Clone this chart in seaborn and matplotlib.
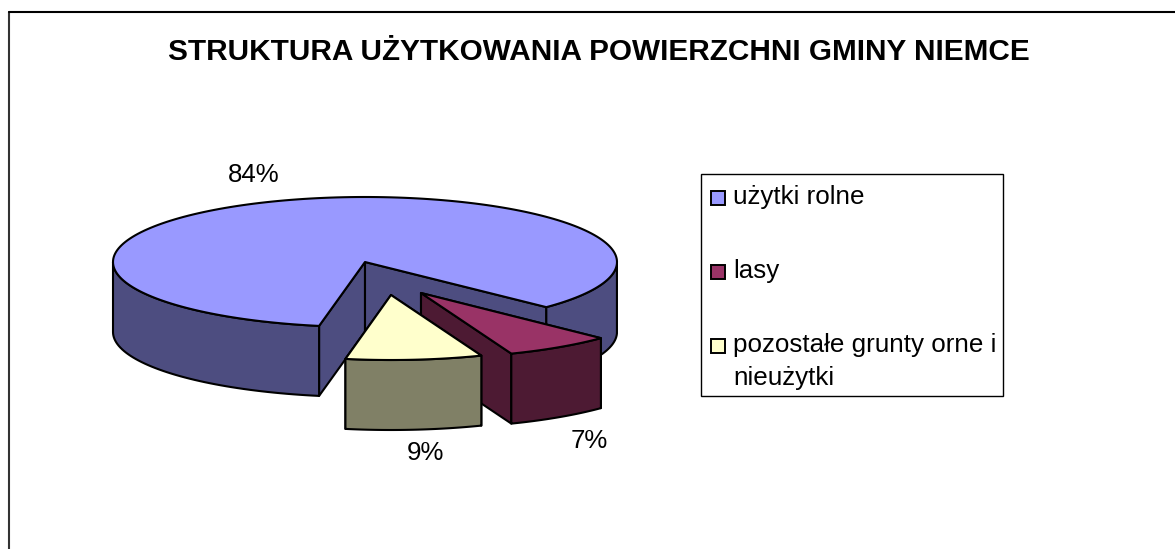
import seaborn as sns
import matplotlib.pyplot as plt
import numpy as np
from matplotlib.patches import Rectangle

categories = ["użytki rolne", "lasy", "pozostałe grunty orne i\nnieużytki"]
values = [84.3, 6.9, 8.8]
pct_labels = ["84%", "7%", "9%"]
title = "STRUKTURA UŻYTKOWANIA POWIERZCHNI GMINY NIEMCE"

sns.set_theme(style="white")
plt.rcParams["font.family"] = ["Liberation Sans", "DejaVu Sans"]

## kolory: gora i bok kazdego wycinka
palette = sns.color_palette(["#9999FF", "#993366", "#FFFFCC"])
sides = [tuple(c * 0.5 for c in col) for col in palette]

W, H = 1175, 549
fig = plt.figure(figsize=(W / 100, H / 100), dpi=100)
ax = fig.add_axes([0, 0, 1, 1])
ax.set_xlim(0, W)
ax.set_ylim(H, 0)
ax.axis("off")

## geometria tortu w pikselach (os y w dol, katy zgodnie z zegarem)
cx, cy = 365, 262
radii = [252, 250, 250]
ry = 65
depth = 70
start = 100.5
offsets = [(0, 0), (56, 31), (26, 33)]
label_pos = [(254, 175), (589, 441), (425, 453)]


def draw_slice(a0, a1, ox, oy, rx, top, side):
    ang = np.linspace(a0, a1, 200)
    rad = np.radians(ang)
    xs = cx + ox + rx * np.cos(rad)
    ys = cy + oy + ry * np.sin(rad)
    ax0, ay0 = cx + ox, cy + oy
    lw = 1.5
    # sciany przeciecia
    for i in (0, -1):
        ax.fill([ax0, xs[i], xs[i], ax0], [ay0, ys[i], ys[i] + depth, ay0 + depth],
                facecolor=side, edgecolor="black", lw=lw, joinstyle="round")
    # sciana zewnetrzna, tylko widoczna czesc luku
    idx = np.where(np.sin(rad) >= 0)[0]
    for run in np.split(idx, np.where(np.diff(idx) > 1)[0] + 1):
        if len(run) > 1:
            ax.fill(np.r_[xs[run], xs[run][::-1]], np.r_[ys[run], ys[run][::-1] + depth],
                    facecolor=side, edgecolor="black", lw=lw, joinstyle="round")
    # gora
    ax.fill(np.r_[ax0, xs], np.r_[ay0, ys], facecolor=top, edgecolor="black", lw=lw, joinstyle="round")


a = start
for v, off, rx, top, side in zip(values, offsets, radii, palette, sides):
    a1 = a + v / sum(values) * 360
    draw_slice(a, a1, off[0], off[1], rx, top, side)
    a = a1

for lab, (x, y) in zip(pct_labels, label_pos):
    ax.text(x, y, lab, fontsize=18.6, ha="center", va="center", color="black")

ax.text(599, 52, title, fontsize=21.4, fontweight="bold", ha="center", va="center", color="black")

## ramka wykresu (prawej krawedzi nie ma)
ax.plot([9, 9], [H, 12], color="#333333", lw=1.5)
ax.plot([9, W], [12, 12], color="black", lw=1.5)

## legenda
ax.add_patch(Rectangle((701, 174), 302, 222, facecolor="white", edgecolor="black", lw=1))
legend_y = [197.5, 271.5, 345.5]
for lab, y, col in zip(categories, legend_y, palette):
    ax.add_patch(Rectangle((711, y - 7), 14, 14, facecolor=col, edgecolor="black", lw=1.4))
    # va baseline bierze ostatnia linie, wiec kazda linia osobno
    for i, line in enumerate(lab.split("\n")):
        ax.text(733, y + 6.5 + i * 32.7, line, fontsize=18.7, ha="left", va="baseline", color="black")

plt.savefig("out.png", dpi=100)
